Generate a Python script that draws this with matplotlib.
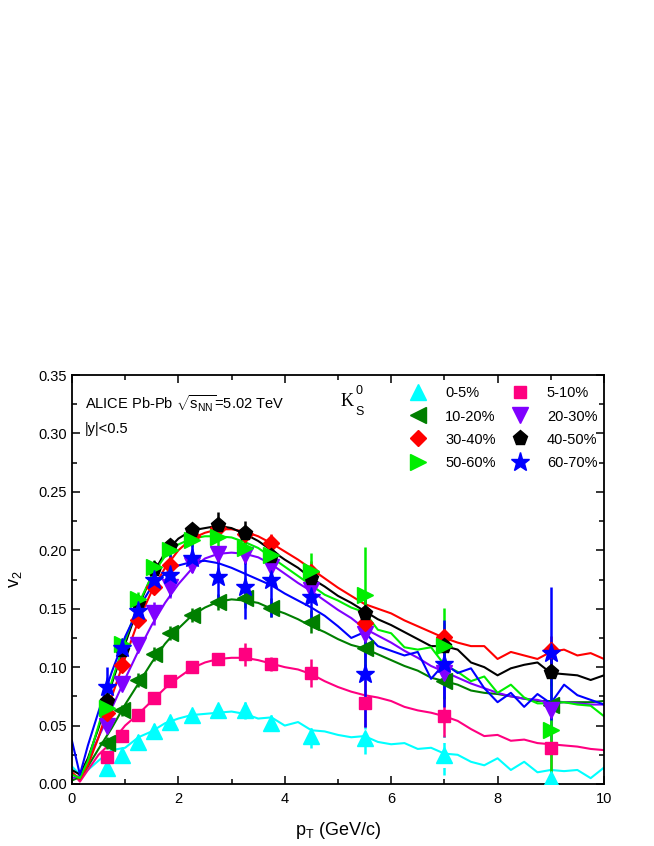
import numpy as np
import matplotlib
matplotlib.use("Agg")
import matplotlib.pyplot as plt
from matplotlib.ticker import MultipleLocator, FormatStrFormatter

plt.rcParams['font.family'] = ['Liberation Sans', 'DejaVu Sans']
plt.rcParams['mathtext.fontset'] = 'custom'
plt.rcParams['mathtext.rm'] = 'Liberation Sans'
plt.rcParams['mathtext.it'] = 'Liberation Sans:italic'
plt.rcParams['mathtext.bf'] = 'Liberation Sans:bold'

# ---------------- data ----------------
labels = ["0-5%", "5-10%", "10-20%", "20-30%", "30-40%", "40-50%", "50-60%", "60-70%"]
colors = ["#00FFFF", "#FF0080", "#007F00", "#8000FF", "#FF0000", "#000000", "#00EE00", "#0000FF"]
markers = ["^", "s", "<", "v", "D", "p", ">", "*"]
msizes = [11, 9, 11, 11, 8, 11, 11, 14]

pt_data = [0.65, 0.95, 1.25, 1.55, 1.85, 2.25, 2.75, 3.25, 3.75, 4.5, 5.5, 7.0, 9.0]

v2_00_05 = [0.014, 0.025, 0.036, 0.045, 0.053, 0.059, 0.063, 0.063, 0.052, 0.041, 0.039, 0.025, 0.004]
v2_05_10 = [0.023, 0.041, 0.059, 0.074, 0.088, 0.100, 0.107, 0.111, 0.103, 0.095, 0.069, 0.058, 0.031]
v2_10_20 = [0.035, 0.063, 0.089, 0.111, 0.129, 0.145, 0.156, 0.159, 0.151, 0.139, 0.116, 0.088, 0.068]
v2_20_30 = [0.050, 0.086, 0.119, 0.146, 0.169, 0.187, 0.197, 0.196, 0.186, 0.166, 0.128, 0.095, 0.063]
v2_30_40 = [0.061, 0.102, 0.140, 0.169, 0.187, 0.212, 0.219, 0.214, 0.206, 0.181, 0.138, 0.126, 0.115]
v2_40_50 = [0.071, 0.115, 0.155, 0.184, 0.204, 0.217, 0.222, 0.215, 0.195, 0.176, 0.146, 0.118, 0.096]
v2_50_60 = [0.065, 0.120, 0.158, 0.186, 0.200, 0.209, 0.211, 0.202, 0.196, 0.182, 0.162, 0.118, 0.046]
v2_60_70 = [0.083, 0.116, 0.148, 0.175, 0.179, 0.193, 0.177, 0.169, 0.175, 0.160, 0.094, 0.103, 0.112]

err_00_05 = [0.006, 0.006, 0.006, 0.006, 0.005, 0.005, 0.005, 0.007, 0.007, 0.010, 0.013, 0.017, 0.010]
err_05_10 = [0.004, 0.004, 0.004, 0.004, 0.004, 0.004, 0.005, 0.010, 0.006, 0.012, 0.020, 0.018, 0.020]
err_10_20 = [0.005, 0.005, 0.006, 0.006, 0.006, 0.006, 0.007, 0.008, 0.008, 0.010, 0.015, 0.015, 0.020]
err_20_30 = [0.004, 0.005, 0.005, 0.010, 0.010, 0.006, 0.007, 0.008, 0.008, 0.010, 0.020, 0.020, 0.025]
err_30_40 = [0.004, 0.004, 0.005, 0.005, 0.005, 0.005, 0.006, 0.007, 0.008, 0.010, 0.012, 0.012, 0.012]
err_40_50 = [0.005, 0.005, 0.005, 0.005, 0.006, 0.006, 0.011, 0.010, 0.008, 0.010, 0.012, 0.012, 0.012]
err_50_60 = [0.005, 0.005, 0.006, 0.006, 0.006, 0.006, 0.007, 0.008, 0.010, 0.016, 0.041, 0.033, 0.045]
err_60_70 = [0.017, 0.008, 0.008, 0.012, 0.018, 0.012, 0.020, 0.028, 0.032, 0.025, 0.045, 0.037, 0.057]

pt_model = [0.0, 0.15, 0.3, 0.5, 0.75, 1.0, 1.25, 1.5, 1.75, 2.0, 2.25, 2.5, 2.75, 3.0,
            3.25, 3.5, 3.75, 4.0, 4.25, 4.5, 4.75, 5.0, 5.25, 5.5, 5.75, 6.0, 6.25, 6.5,
            6.75, 7.0, 7.25, 7.5, 7.75, 8.0, 8.25, 8.5, 8.75, 9.0, 9.25, 9.5, 9.75, 10.0]

model_00_05 = [0.015, 0.008, 0.012, 0.020, 0.029, 0.031, 0.040, 0.045, 0.052, 0.056, 0.059, 0.060,
               0.061, 0.062, 0.060, 0.056, 0.057, 0.050, 0.053, 0.046, 0.045, 0.042, 0.040, 0.041,
               0.036, 0.034, 0.035, 0.030, 0.031, 0.026, 0.025, 0.019, 0.016, 0.022, 0.012, 0.019,
               0.010, 0.012, 0.011, 0.012, 0.005, 0.014]
model_05_10 = [0.010, 0.002, 0.012, 0.025, 0.036, 0.050, 0.060, 0.071, 0.082, 0.091, 0.099, 0.104,
               0.107, 0.108, 0.108, 0.106, 0.103, 0.100, 0.098, 0.094, 0.088, 0.083, 0.079, 0.076,
               0.074, 0.071, 0.066, 0.063, 0.061, 0.058, 0.054, 0.047, 0.041, 0.042, 0.037, 0.038,
               0.035, 0.034, 0.033, 0.032, 0.030, 0.029]
model_10_20 = [0.003, 0.006, 0.015, 0.030, 0.048, 0.068, 0.086, 0.104, 0.120, 0.133, 0.144, 0.151,
               0.156, 0.158, 0.157, 0.155, 0.150, 0.146, 0.141, 0.135, 0.130, 0.124, 0.119, 0.116,
               0.111, 0.106, 0.101, 0.097, 0.091, 0.088, 0.085, 0.080, 0.078, 0.077, 0.075, 0.073,
               0.071, 0.071, 0.070, 0.070, 0.070, 0.071]
model_20_30 = [0.005, 0.007, 0.020, 0.040, 0.065, 0.090, 0.114, 0.136, 0.155, 0.171, 0.184, 0.193,
               0.197, 0.198, 0.197, 0.194, 0.188, 0.180, 0.172, 0.165, 0.157, 0.149, 0.142, 0.133,
               0.127, 0.121, 0.114, 0.108, 0.101, 0.096, 0.091, 0.086, 0.082, 0.078, 0.075, 0.073,
               0.072, 0.069, 0.070, 0.069, 0.068, 0.068]
model_30_40 = [0.010, 0.004, 0.016, 0.040, 0.075, 0.108, 0.140, 0.165, 0.185, 0.200, 0.210, 0.215,
               0.218, 0.218, 0.216, 0.212, 0.206, 0.199, 0.192, 0.184, 0.176, 0.168, 0.161, 0.154,
               0.150, 0.146, 0.140, 0.135, 0.130, 0.125, 0.121, 0.118, 0.118, 0.107, 0.113, 0.110,
               0.107, 0.113, 0.115, 0.110, 0.112, 0.107]
model_40_50 = [0.012, 0.008, 0.022, 0.048, 0.086, 0.120, 0.152, 0.178, 0.198, 0.210, 0.217, 0.219,
               0.221, 0.219, 0.214, 0.208, 0.200, 0.192, 0.185, 0.176, 0.169, 0.161, 0.155, 0.148,
               0.141, 0.136, 0.130, 0.124, 0.118, 0.118, 0.115, 0.104, 0.100, 0.093, 0.099, 0.102,
               0.104, 0.095, 0.094, 0.093, 0.089, 0.093]
model_50_60 = [0.008, 0.005, 0.020, 0.050, 0.088, 0.123, 0.154, 0.178, 0.195, 0.205, 0.210, 0.212,
               0.212, 0.211, 0.207, 0.202, 0.194, 0.186, 0.178, 0.170, 0.162, 0.157, 0.151, 0.147,
               0.132, 0.129, 0.117, 0.115, 0.117, 0.102, 0.096, 0.088, 0.092, 0.078, 0.085, 0.074,
               0.069, 0.069, 0.070, 0.068, 0.067, 0.058]
model_60_70 = [0.037, 0.008, 0.033, 0.062, 0.096, 0.126, 0.150, 0.169, 0.180, 0.187, 0.190, 0.191,
               0.189, 0.185, 0.180, 0.175, 0.170, 0.163, 0.157, 0.151, 0.144, 0.135, 0.125, 0.130,
               0.118, 0.114, 0.110, 0.113, 0.090, 0.103, 0.095, 0.099, 0.082, 0.070, 0.078, 0.066,
               0.077, 0.069, 0.085, 0.076, 0.072, 0.068]

v2_all = [v2_00_05, v2_05_10, v2_10_20, v2_20_30, v2_30_40, v2_40_50, v2_50_60, v2_60_70]
err_all = [err_00_05, err_05_10, err_10_20, err_20_30, err_30_40, err_40_50, err_50_60, err_60_70]
model_all = [model_00_05, model_05_10, model_10_20, model_20_30, model_30_40, model_40_50,
             model_50_60, model_60_70]

# ---------------- figure ----------------
fig = plt.figure(figsize=(6.54, 8.46), dpi=100)
ax = fig.add_axes([0.110, 0.0733, 0.8135, 0.4834])

for i in range(len(labels)):
    ax.plot(pt_model, model_all[i], color=colors[i], lw=1.5, zorder=2)

handles = []
for i in range(len(labels)):
    eb = ax.errorbar(pt_data, v2_all[i], yerr=err_all[i], fmt=markers[i], color=colors[i],
                     ms=msizes[i], mec=colors[i], mfc=colors[i], elinewidth=1.8,
                     capsize=0, zorder=3 + i * 0.01, label=labels[i])
    if i == 0:
        for lc in eb[2]:
            lc.set_linestyle((0, (3, 2)))
    handles.append(eb[0])

ax.set_xlim(0, 10)
ax.set_ylim(0, 0.35)
ax.xaxis.set_major_locator(MultipleLocator(2))
ax.xaxis.set_minor_locator(MultipleLocator(1))
ax.yaxis.set_major_locator(MultipleLocator(0.05))
ax.yaxis.set_minor_locator(MultipleLocator(0.025))
ax.yaxis.set_major_formatter(FormatStrFormatter('%.2f'))
ax.tick_params(which='both', direction='in', top=True, right=True, labelsize=10.5, width=1.1)
ax.tick_params(which='major', length=6)
ax.tick_params(which='minor', length=3.5)
ax.tick_params(axis='x', pad=6)
for s in ax.spines.values():
    s.set_linewidth(1.3)

ax.set_xlabel(r"p$_\mathregular{T}$ (GeV/c)", fontsize=13, labelpad=10)
ax.set_ylabel(r"v$_\mathregular{2}$", fontsize=13, labelpad=10)

ax.text(0.025, 0.955, r"ALICE Pb-Pb $\sqrt{\mathregular{s}_\mathregular{NN}}$=5.02 TeV",
        transform=ax.transAxes, fontsize=10.5, va='top', ha='left')
ax.text(0.025, 0.885, "|y|<0.5", transform=ax.transAxes, fontsize=10.5, va='top', ha='left')
ax.text(0.505, 0.955, "K", transform=ax.transAxes, fontsize=13, va='top', ha='left',
        family='Liberation Serif')
ax.text(0.533, 0.925, "S", transform=ax.transAxes, fontsize=9, va='top', ha='left')
ax.text(0.533, 0.975, "0", transform=ax.transAxes, fontsize=9, va='top', ha='left')

order = [0, 2, 4, 6, 1, 3, 5, 7]
ax.legend([handles[k] for k in order], [labels[k] for k in order], ncol=2, frameon=False,
          loc='upper left', bbox_to_anchor=(0.636, 0.972), borderaxespad=0, borderpad=0,
          handlelength=1.1, handletextpad=1.3, columnspacing=1.1, labelspacing=0.62,
          fontsize=10.5, numpoints=1)

fig.savefig("out.png", dpi=100)
